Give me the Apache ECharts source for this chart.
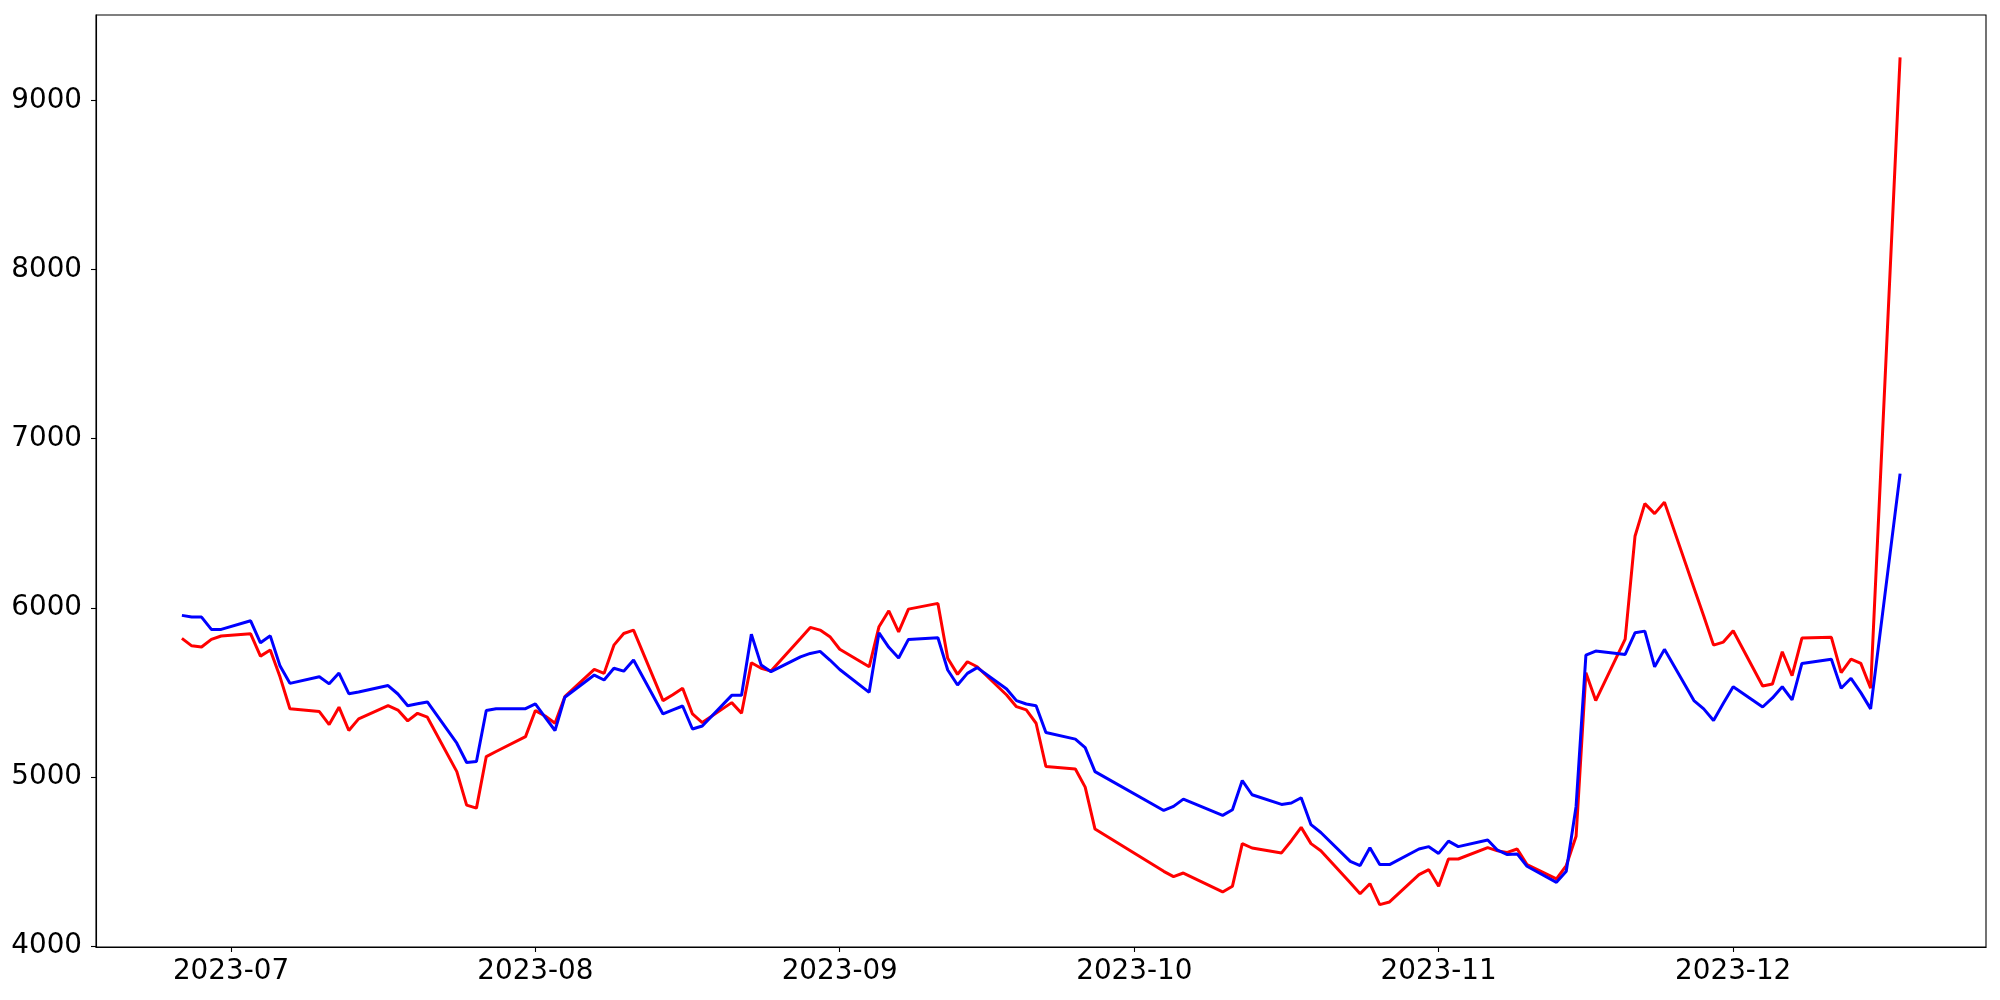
<!DOCTYPE html>
<html>
<head>
<meta charset="utf-8">
<script src="https://cdn.jsdelivr.net/npm/echarts@6/dist/echarts.min.js"></script>
<style>
html,body{margin:0;padding:0;background:#fff;}
#chart{width:2000px;height:1000px;}
</style>
</head>
<body>
<div id="chart"></div>
<script>
const dates = [
 '2023-06-26','2023-06-27','2023-06-28','2023-06-29','2023-06-30',
 '2023-07-03','2023-07-04','2023-07-05','2023-07-06','2023-07-07',
 '2023-07-10','2023-07-11','2023-07-12','2023-07-13','2023-07-14',
 '2023-07-17','2023-07-18','2023-07-19','2023-07-20','2023-07-21',
 '2023-07-24','2023-07-25','2023-07-26','2023-07-27','2023-07-28',
 '2023-07-31',
 '2023-08-01','2023-08-02','2023-08-03','2023-08-04',
 '2023-08-07','2023-08-08','2023-08-09','2023-08-10','2023-08-11',
 '2023-08-14','2023-08-15','2023-08-16','2023-08-17','2023-08-18',
 '2023-08-21','2023-08-22','2023-08-23','2023-08-24','2023-08-25',
 '2023-08-28','2023-08-29','2023-08-30','2023-08-31',
 '2023-09-01',
 '2023-09-04','2023-09-05','2023-09-06','2023-09-07','2023-09-08',
 '2023-09-11','2023-09-12','2023-09-13','2023-09-14','2023-09-15',
 '2023-09-18','2023-09-19','2023-09-20','2023-09-21','2023-09-22',
 '2023-09-25','2023-09-26','2023-09-27',
 '2023-10-04','2023-10-05','2023-10-06',
 '2023-10-10','2023-10-11','2023-10-12','2023-10-13',
 '2023-10-16','2023-10-17','2023-10-18','2023-10-19','2023-10-20',
 '2023-10-23','2023-10-24','2023-10-25','2023-10-26','2023-10-27',
 '2023-10-30','2023-10-31',
 '2023-11-01','2023-11-02','2023-11-03',
 '2023-11-06','2023-11-07','2023-11-08','2023-11-09','2023-11-10',
 '2023-11-13','2023-11-14','2023-11-15','2023-11-16','2023-11-17',
 '2023-11-20','2023-11-21','2023-11-22','2023-11-23','2023-11-24',
 '2023-11-27','2023-11-28','2023-11-29','2023-11-30',
 '2023-12-01',
 '2023-12-04','2023-12-05','2023-12-06','2023-12-07','2023-12-08',
 '2023-12-11','2023-12-12','2023-12-13','2023-12-14','2023-12-15',
 '2023-12-18'
];

const redValues = [
 5819,5775,5768,5813,5833,
 5846,5714,5750,5590,5403,
 5386,5309,5412,5274,5343,
 5421,5395,5331,5376,5353,
 5031,4833,4815,5120,5150,
 5238,
 5392,5360,5317,5474,
 5636,5612,5779,5848,5868,
 5451,5486,5524,5372,5321,
 5439,5376,5675,5642,5626,
 5819,5884,5868,5829,
 5755,
 5651,5888,5982,5858,5992,
 6026,5701,5606,5681,5651,
 5484,5415,5396,5317,5061,
 5046,4939,4691,
 4441,4410,4431,
 4319,4353,4605,4579,
 4550,4622,4701,4605,4563,
 4373,4308,4368,4244,4260,
 4422,4451,
 4353,4514,4514,
 4581,4562,4553,4573,4481,
 4396,4475,4648,5616,5451,
 5815,6423,6616,6557,6625,
 6118,5952,5779,5797,
 5864,
 5537,5549,5740,5598,5821,
 5825,5616,5697,5671,5524,
 9256
];

const blueValues = [
 5955,5945,5945,5872,5872,
 5923,5793,5834,5655,5553,
 5592,5550,5614,5492,5502,
 5540,5490,5421,5432,5443,
 5199,5085,5091,5392,5403,
 5403,
 5431,5352,5274,5471,
 5602,5573,5642,5625,5691,
 5372,5396,5419,5283,5301,
 5482,5482,5844,5661,5622,
 5710,5730,5742,5691,
 5635,
 5500,5852,5766,5703,5813,
 5823,5632,5543,5612,5646,
 5520,5451,5431,5421,5262,
 5223,5173,5031,
 4801,4825,4868,
 4772,4805,4978,4894,
 4837,4845,4876,4717,4671,
 4500,4475,4581,4481,4481,
 4573,4587,
 4547,4620,4587,
 4626,4566,4540,4544,4471,
 4376,4441,4825,5720,5744,
 5724,5852,5862,5651,5754,
 5451,5402,5333,5435,
 5533,
 5413,5467,5533,5455,5671,
 5695,5524,5583,5498,5402,
 6794
];

const xTickLabels = ['2023-07','2023-08','2023-09','2023-10','2023-11','2023-12'];
const yTickValues = [4000,5000,6000,7000,8000,9000];

function ts(s) {
  const p = s.split('-').map(Number);
  return Date.UTC(p[0], p[1] - 1, p[2] || 1);
}
const times = dates.map(ts);
const xTicks = xTickLabels.map(ts);

const tMin = Math.min(...times), tMax = Math.max(...times);
const xPad = (tMax - tMin) * 0.05;
const allVals = redValues.concat(blueValues);
const vMin = Math.min(...allVals), vMax = Math.max(...allVals);
const yPad = (vMax - vMin) * 0.05;

const FONT = 'DejaVu Sans';
const chart = echarts.init(document.getElementById('chart'), null, {renderer: 'canvas'});
chart.setOption({
  animation: false,
  backgroundColor: '#ffffff',
  grid: {left: 96, right: 14, top: 15, bottom: 53, show: true, borderColor: '#000', borderWidth: 1.1, backgroundColor: 'transparent'},
  xAxis: {
    type: 'value',
    min: tMin - xPad,
    max: tMax + xPad,
    splitLine: {show: false},
    axisLine: {show: true, onZero: false, lineStyle: {color: '#000', width: 1.1}},
    axisTick: {show: true, length: 5, inside: false, lineStyle: {color: '#000', width: 1.1}, customValues: xTicks},
    axisLabel: {
      show: true, color: '#000', fontSize: 27.8, fontFamily: FONT, margin: 11,
      customValues: xTicks,
      formatter: function (v) {
        const i = xTicks.indexOf(v);
        return i >= 0 ? xTickLabels[i] : '';
      }
    }
  },
  yAxis: {
    type: 'value',
    min: vMin - yPad,
    max: vMax + yPad,
    splitLine: {show: false},
    axisLine: {show: true, onZero: false, lineStyle: {color: '#000', width: 1.1}},
    axisTick: {show: true, length: 5, inside: false, lineStyle: {color: '#000', width: 1.1}, customValues: yTickValues},
    axisLabel: {show: true, color: '#000', fontSize: 27.8, fontFamily: FONT, margin: 14, customValues: yTickValues,
      formatter: function (v) { return String(Math.round(v)); }}
  },
  series: [
    {type: 'line', data: times.map((t, i) => [t, redValues[i]]), showSymbol: false, symbol: 'none',
     lineStyle: {color: '#ff0000', width: 3}, itemStyle: {color: '#ff0000'}, z: 2},
    {type: 'line', data: times.map((t, i) => [t, blueValues[i]]), showSymbol: false, symbol: 'none',
     lineStyle: {color: '#0000ff', width: 3}, itemStyle: {color: '#0000ff'}, z: 3}
  ]
});
</script>
</body>
</html>
